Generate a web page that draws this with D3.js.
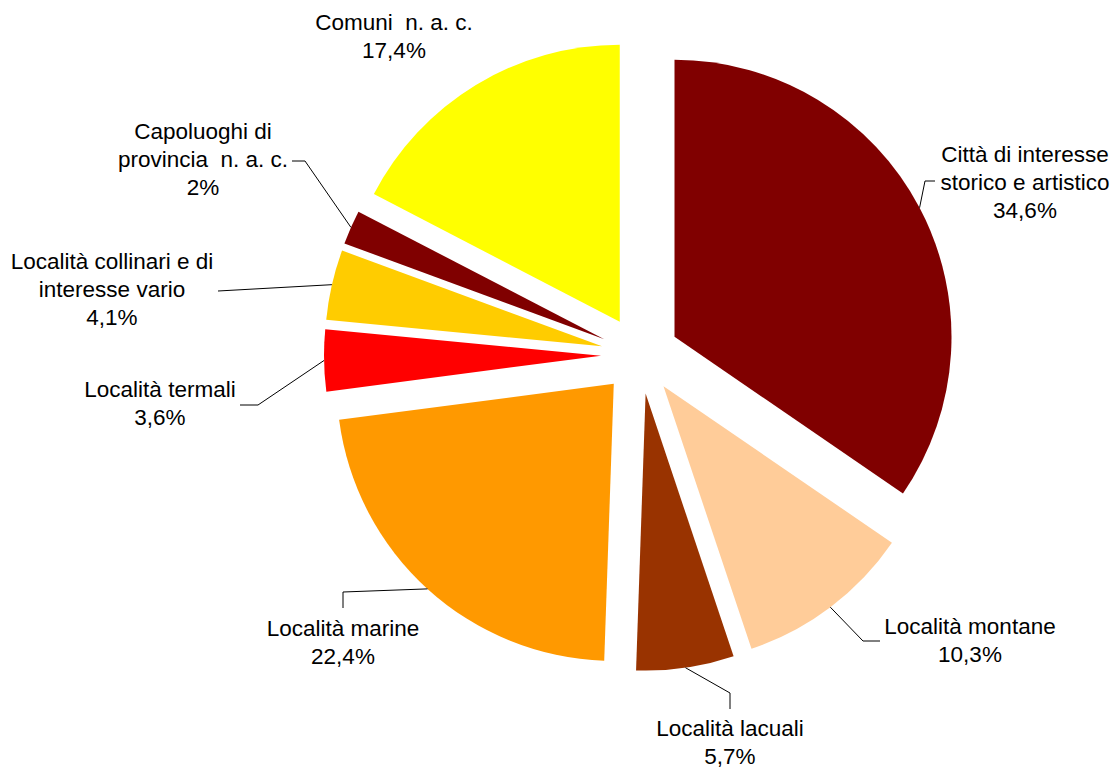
<!DOCTYPE html>
<html>
<head>
<meta charset="utf-8">
<script src="https://d3js.org/d3.v7.min.js"></script>
<style>
  html, body { margin: 0; padding: 0; background: #fff; }
  svg text { font-family: Arial, "Liberation Sans", sans-serif; font-size: 22.5px; fill: #000; white-space: pre; }
</style>
</head>
<body>
<svg id="chart" width="1117" height="769"></svg>
<script>
// data, clockwise from 12 o'clock
const categories = [
  "Città di interesse storico e artistico",
  "Località montane",
  "Località lacuali",
  "Località marine",
  "Località termali",
  "Località collinari e di interesse vario",
  "Capoluoghi di provincia n. a. c.",
  "Comuni n. a. c."
];
const values = [34.6, 10.3, 5.7, 22.4, 3.6, 4.1, 2, 17.4];
const valueLabels = ["34,6%", "10,3%", "5,7%", "22,4%", "3,6%", "4,1%", "2%", "17,4%"];
// category text split the way the picture wraps it
const labelLines = [
  ["Città di interesse", "storico e artistico"],
  ["Località montane"],
  ["Località lacuali"],
  ["Località marine"],
  ["Località termali"],
  ["Località collinari e di", "interesse vario"],
  ["Capoluoghi di", "provincia  n. a. c."],
  ["Comuni  n. a. c."]
];
const colors = ["#800000", "#FFCC99", "#993300", "#FF9900", "#FF0000", "#FFCC00", "#800000", "#FFFF00"];

// layout
const cx = 640, cy = 355;
const radius = 277;
const explode = 39;
const lineH = 28;

// label placement: text centre x, first baseline y, leader points after the arc point
const labelPos = [
  { x: 1025, y: 162, leader: [[925, 181], [935, 181]] },
  { x: 970, y: 634, leader: [[863, 641], [880, 641]] },
  { x: 730, y: 736, leader: [[730, 693], [730, 709]] },
  { x: 343, y: 636, leader: [[343, 592], [343, 608]] },
  { x: 160, y: 397, leader: [[258, 405], [240, 405]] },
  { x: 112, y: 269, leader: [[218, 291]] },
  { x: 203, y: 139, leader: [[305, 161], [292, 161]] },
  { x: 394, y: 30, leader: null }
];

const svg = d3.select("#chart");

const pie = d3.pie().sort(null).startAngle(0).endAngle(2 * Math.PI);
const arc = d3.arc().innerRadius(0).outerRadius(radius);
const slices = pie(values);

function offsetOf(d, dist) {
  const a = (d.startAngle + d.endAngle) / 2;
  return [Math.sin(a) * dist, -Math.cos(a) * dist];
}

svg.append("g")
  .selectAll("path")
  .data(slices)
  .join("path")
  .attr("transform", d => {
    const o = offsetOf(d, explode);
    return "translate(" + (cx + o[0]) + "," + (cy + o[1]) + ")";
  })
  .attr("d", arc)
  .attr("fill", (d, i) => colors[i]);

// leader lines from the middle of each slice's arc
const line = d3.line();
slices.forEach((d, i) => {
  const lp = labelPos[i];
  if (!lp.leader) return;
  const o = offsetOf(d, explode + radius);
  const pts = [[cx + o[0], cy + o[1]]].concat(lp.leader);
  svg.append("path")
    .attr("d", line(pts))
    .attr("fill", "none")
    .attr("stroke", "#000")
    .attr("stroke-width", 1);
});

// labels
slices.forEach((d, i) => {
  const lp = labelPos[i];
  const lines = labelLines[i].concat([valueLabels[i]]);
  const t = svg.append("text")
    .attr("text-anchor", "middle");
  lines.forEach((s, k) => {
    t.append("tspan")
      .attr("x", lp.x)
      .attr("y", lp.y + k * lineH)
      .text(s);
  });
});
</script>
</body>
</html>
